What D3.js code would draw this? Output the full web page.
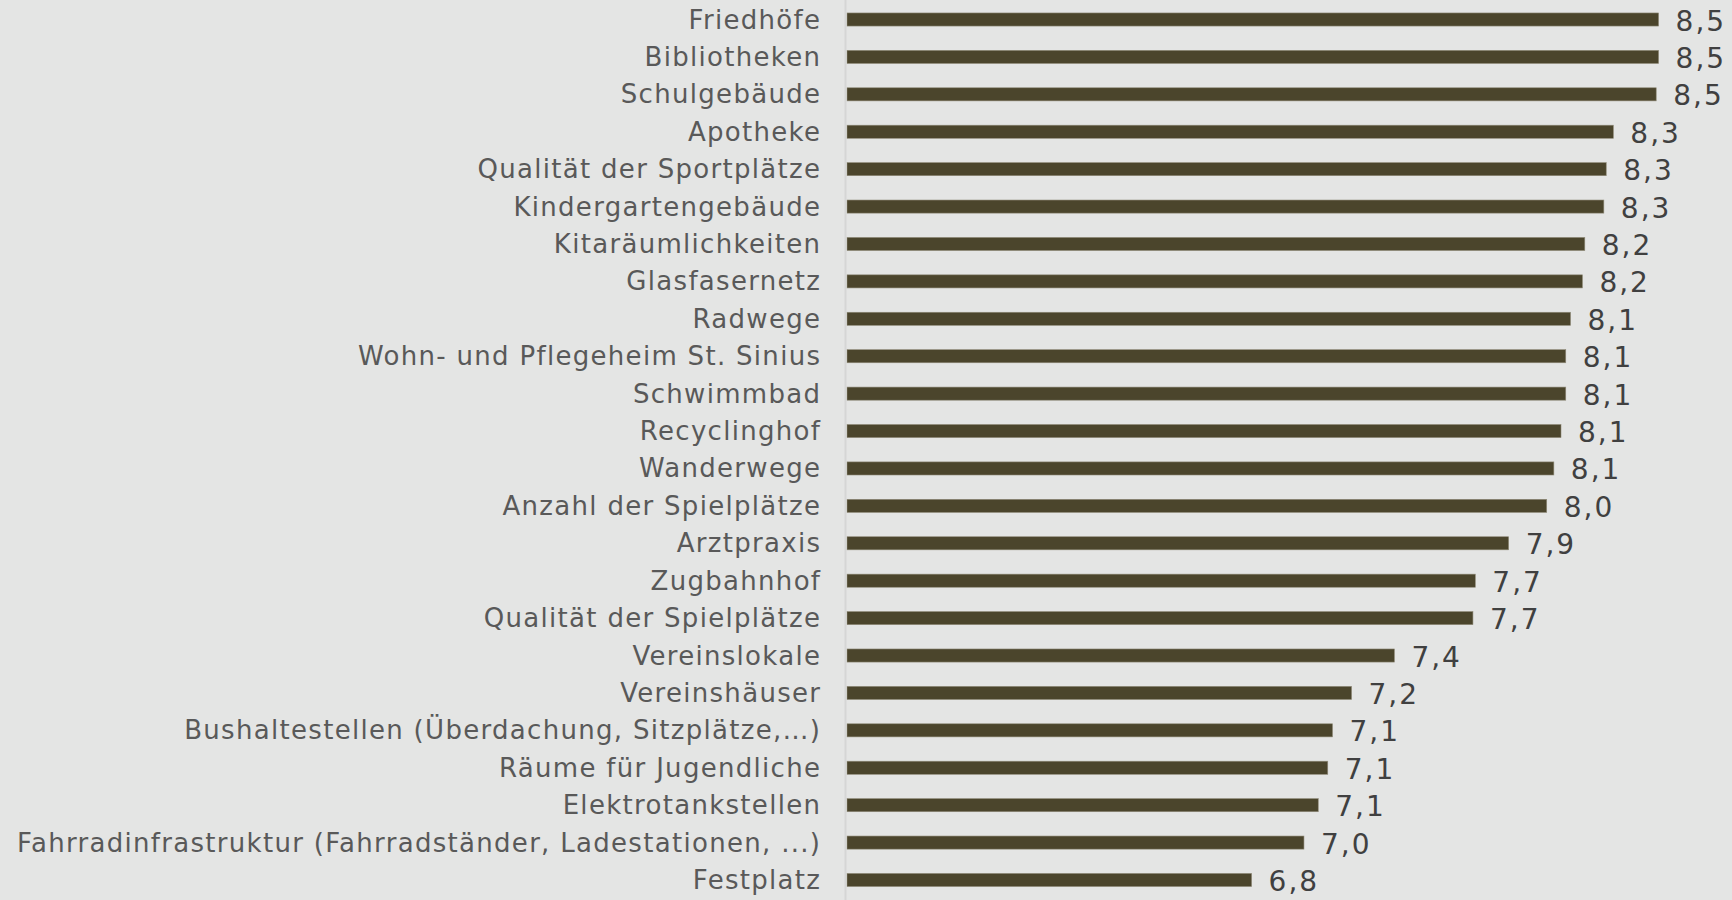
<!DOCTYPE html>
<html>
<head>
<meta charset="utf-8">
<script src="https://cdn.jsdelivr.net/npm/d3@7"></script>
<style>
  html, body { margin: 0; padding: 0; background: #e4e5e4; }
  svg { display: block; }
</style>
</head>
<body>
<svg id="chart"></svg>
<script>
// Kategorien (von oben nach unten) und Mittelwerte
const categories = [
  'Friedhöfe', 'Bibliotheken', 'Schulgebäude', 'Apotheke',
  'Qualität der Sportplätze', 'Kindergartengebäude', 'Kitaräumlichkeiten',
  'Glasfasernetz', 'Radwege', 'Wohn- und Pflegeheim St. Sinius', 'Schwimmbad',
  'Recyclinghof', 'Wanderwege', 'Anzahl der Spielplätze', 'Arztpraxis',
  'Zugbahnhof', 'Qualität der Spielplätze', 'Vereinslokale', 'Vereinshäuser',
  'Bushaltestellen (Überdachung, Sitzplätze,…)', 'Räume für Jugendliche',
  'Elektrotankstellen', 'Fahrradinfrastruktur (Fahrradständer, Ladestationen, ...)',
  'Festplatz'
];
const values = [
  8.51, 8.51, 8.50, 8.32, 8.29, 8.28, 8.20, 8.19, 8.14, 8.12, 8.12, 8.10,
  8.07, 8.04, 7.88, 7.74, 7.73, 7.40, 7.22, 7.14, 7.12, 7.08, 7.02, 6.80
];
const xDomain = [5.1, 8.5];

const W = 1732, H = 900;
const AXIS_X = 847;
const LABEL_SPACING = 1.3;

const data = categories.map((c, i) => ({ name: c, value: values[i] }));

const svg = d3.select('#chart').attr('width', W).attr('height', H);

svg.append('rect')
  .attr('width', W).attr('height', H)
  .attr('fill', '#e4e5e4');

const x = d3.scaleLinear()
  .domain(xDomain)
  .range([AXIS_X, AXIS_X + 3.4 * 238]);

const y = d3.scaleBand()
  .domain(categories)
  .range([0.8, 898.7])
  .paddingInner(0.65)
  .paddingOuter(0.325);

const fmt = v => d3.format('.1f')(v).replace('.', ',');

// Balken
svg.append('g')
  .selectAll('rect')
  .data(data)
  .join('rect')
    .attr('x', AXIS_X)
    .attr('y', d => y(d.name))
    .attr('width', d => x(d.value) - AXIS_X)
    .attr('height', y.bandwidth())
    .attr('fill', '#4b452c')
    .attr('stroke', '#8f8a78')
    .attr('stroke-width', 0.6);

// vertikale Achsenlinie
svg.append('line')
  .attr('x1', AXIS_X - 1.5).attr('x2', AXIS_X - 1.5)
  .attr('y1', 0).attr('y2', H)
  .attr('stroke', '#d5d6d5')
  .attr('stroke-width', 2);

// Kategorie-Beschriftungen
svg.append('g')
  .selectAll('text')
  .data(data)
  .join('text')
    .attr('x', AXIS_X - 27 + LABEL_SPACING)
    .attr('y', d => y(d.name) + y.bandwidth() / 2 + 9)
    .attr('text-anchor', 'end')
    .attr('font-family', 'DejaVu Sans, Verdana, sans-serif')
    .attr('font-size', 26)
    .attr('letter-spacing', LABEL_SPACING)
    .attr('fill', '#595959')
    .text(d => d.name);

// Wertbeschriftungen
svg.append('g')
  .selectAll('text')
  .data(data)
  .join('text')
    .attr('x', d => x(d.value) + 17)
    .attr('y', d => y(d.name) + y.bandwidth() / 2 + 11)
    .attr('font-family', 'DejaVu Sans, Verdana, sans-serif')
    .attr('font-size', 28)
    .attr('letter-spacing', 2)
    .attr('fill', '#404040')
    .text(d => fmt(d.value));
</script>
</body>
</html>
